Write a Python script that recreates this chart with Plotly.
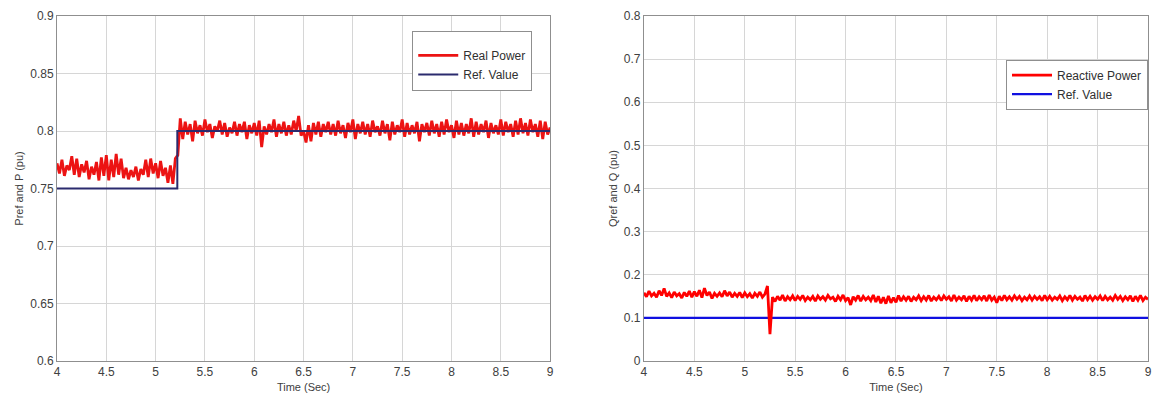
import numpy as np
import plotly.graph_objects as go

# ---------------- data ----------------
t_start, t_end = 4.0, 9.0

p_real = [
    0.772,0.763,0.775,0.761,0.770,0.766,0.778,0.762,0.776,0.760,
    0.771,0.764,0.774,0.758,0.769,0.762,0.773,0.757,0.777,0.761,
    0.779,0.757,0.775,0.760,0.780,0.762,0.776,0.759,0.768,0.758,
    0.766,0.760,0.769,0.757,0.767,0.762,0.775,0.760,0.776,0.763,
    0.772,0.759,0.774,0.761,0.768,0.755,0.770,0.754,0.776,
    0.779,
    0.811,0.793,0.808,0.797,0.806,0.791,0.809,0.798,0.805,0.796,
    0.810,0.799,0.806,0.794,0.804,0.800,0.809,0.797,0.807,0.795,
    0.803,0.798,0.808,0.796,0.806,0.799,0.808,0.793,0.805,0.798,
    0.807,0.796,0.809,0.786,0.804,0.797,0.806,0.799,0.810,0.795,
    0.806,0.798,0.808,0.796,0.805,0.797,0.809,0.800,0.813,0.796,
    0.800,0.790,0.805,0.791,0.807,0.797,0.808,0.795,0.806,0.799,
    0.808,0.797,0.806,0.796,0.809,0.798,0.805,0.794,0.807,0.799,
    0.810,0.793,0.806,0.798,0.808,0.797,0.806,0.795,0.809,0.799,
    0.804,0.796,0.809,0.798,0.806,0.792,0.808,0.797,0.805,0.799,
    0.810,0.795,0.807,0.797,0.805,0.798,0.808,0.791,0.806,0.799,
    0.807,0.796,0.809,0.798,0.806,0.795,0.808,0.797,0.810,0.799,
    0.805,0.794,0.809,0.797,0.807,0.796,0.806,0.798,0.811,0.795,
    0.808,0.797,0.806,0.799,0.809,0.794,0.807,0.798,0.805,0.797,
    0.810,0.796,0.808,0.799,0.806,0.795,0.809,0.797,0.811,0.798,
    0.807,0.796,0.810,0.799,0.806,0.795,0.809,0.793,0.808,0.797,0.803,
]

q_reactive = [
    0.158,0.149,0.162,0.151,0.157,0.148,0.163,0.152,0.168,0.150,
    0.158,0.147,0.160,0.151,0.156,0.146,0.159,0.150,0.162,0.148,
    0.161,0.150,0.164,0.147,0.169,0.152,0.160,0.145,0.157,0.150,
    0.158,0.149,0.163,0.151,0.160,0.148,0.157,0.150,0.159,0.147,
    0.158,0.149,0.156,0.146,0.157,0.150,0.160,0.148,0.155,
    0.174,0.062,
    0.148,0.138,0.150,0.141,0.153,0.139,0.149,0.142,0.151,0.140,
    0.150,0.143,0.152,0.140,0.148,0.142,0.150,0.139,0.151,0.143,
    0.149,0.141,0.152,0.144,0.148,0.138,0.150,0.142,0.153,0.140,
    0.147,0.130,0.149,0.141,0.152,0.139,0.150,0.142,0.148,0.140,
    0.153,0.137,0.150,0.134,0.148,0.133,0.151,0.135,0.147,0.136,
    0.152,0.139,0.149,0.141,0.150,0.138,0.148,0.142,0.151,0.140,
    0.149,0.141,0.152,0.139,0.148,0.142,0.150,0.140,0.151,0.143,
    0.149,0.139,0.153,0.141,0.148,0.142,0.151,0.138,0.150,0.141,
    0.152,0.140,0.149,0.142,0.151,0.139,0.153,0.141,0.148,0.135,
    0.150,0.140,0.152,0.142,0.149,0.141,0.151,0.143,0.150,0.140,
    0.148,0.142,0.151,0.141,0.150,0.143,0.149,0.140,0.152,0.142,
    0.150,0.141,0.148,0.143,0.151,0.140,0.149,0.142,0.152,0.141,
    0.150,0.143,0.148,0.139,0.152,0.142,0.150,0.141,0.149,0.143,
    0.151,0.140,0.150,0.142,0.148,0.141,0.152,0.143,0.150,0.140,
    0.149,0.142,0.151,0.138,0.150,0.141,0.152,0.140,0.148,0.143,
]

p_ref_t = [4.0, 5.22, 5.22, 9.0]
p_ref = [0.75, 0.75, 0.80, 0.80]
q_ref_t = [4.0, 9.0]
q_ref = [0.1, 0.1]

x_ticks = [4, 4.5, 5, 5.5, 6, 6.5, 7, 7.5, 8, 8.5, 9]
x_tick_text = ["4", "4.5", "5", "5.5", "6", "6.5", "7", "7.5", "8", "8.5", "9"]
p_ticks = [0.6, 0.65, 0.7, 0.75, 0.8, 0.85, 0.9]
p_tick_text = ["0.6", "0.65", "0.7", "0.75", "0.8", "0.85", "0.9"]
q_ticks = [0, 0.1, 0.2, 0.3, 0.4, 0.5, 0.6, 0.7, 0.8]
q_tick_text = ["0", "0.1", "0.2", "0.3", "0.4", "0.5", "0.6", "0.7", "0.8"]

t_p = np.linspace(t_start, t_end, len(p_real))
t_q = np.linspace(t_start, t_end, len(q_reactive))

# ---------------- figure ----------------
FONT = "Liberation Sans, Arial, sans-serif"
fig = go.Figure()

fig.add_trace(go.Scatter(x=t_p, y=p_real, mode="lines", name="Real Power",
                         line=dict(color="#ec1313", width=2.8),
                         xaxis="x", yaxis="y", legend="legend"))
fig.add_trace(go.Scatter(x=p_ref_t, y=p_ref, mode="lines", name="Ref. Value",
                         line=dict(color="#2b2b6e", width=2),
                         xaxis="x", yaxis="y", legend="legend"))
fig.add_trace(go.Scatter(x=q_ref_t, y=q_ref, mode="lines", name="Ref. Value",
                         line=dict(color="#1010e0", width=2.2),
                         xaxis="x2", yaxis="y2", legend="legend2"))
fig.add_trace(go.Scatter(x=t_q, y=q_reactive, mode="lines", name="Reactive Power",
                         line=dict(color="#ff0000", width=2.8),
                         xaxis="x2", yaxis="y2", legend="legend2", legendrank=1))

axis_common = dict(showgrid=True, gridcolor="#d6d6d6", gridwidth=1,
                   showline=True, linecolor="#8f8f8f", linewidth=1, mirror=True,
                   ticks="", zeroline=False,
                   tickfont=dict(family=FONT, size=12, color="#404040"))

fig.update_layout(
    width=1161, height=407,
    paper_bgcolor="white", plot_bgcolor="white",
    margin=dict(l=57, r=9, t=13, b=46),
    font=dict(family=FONT, size=11, color="#404040"),
    xaxis=dict(domain=[0, 0.452], range=[4, 9], tickvals=x_ticks, ticktext=x_tick_text,
               title=dict(text="Time (Sec)", font=dict(size=11), standoff=4),
               anchor="y", **axis_common),
    yaxis=dict(domain=[0, 1], range=[0.6, 0.9], tickvals=p_ticks, ticktext=p_tick_text,
               title=dict(text="Pref and P (pu)", font=dict(size=11), standoff=4),
               anchor="x", **axis_common),
    xaxis2=dict(domain=[0.538, 1], range=[4, 9], tickvals=x_ticks, ticktext=x_tick_text,
                title=dict(text="Time (Sec)", font=dict(size=11), standoff=4),
                anchor="y2", **axis_common),
    yaxis2=dict(domain=[0, 1], range=[0, 0.8], tickvals=q_ticks, ticktext=q_tick_text,
                title=dict(text="Qref and Q (pu)", font=dict(size=11), standoff=4),
                anchor="x2", **axis_common),
    legend=dict(x=0.4356, y=0.957, xanchor="right", yanchor="top",
                bgcolor="white", bordercolor="#8f8f8f", borderwidth=1,
                font=dict(family=FONT, size=12, color="#303030"),
                title=dict(text=" ", font=dict(size=7)),
                tracegroupgap=0, itemwidth=40),
    legend2=dict(x=1.0, y=0.8736, xanchor="right", yanchor="top",
                 bgcolor="white", bordercolor="#8f8f8f", borderwidth=1,
                 font=dict(family=FONT, size=12, color="#303030"),
                 tracegroupgap=0, itemwidth=40),
    showlegend=True,
)

fig.write_html("out.html")
